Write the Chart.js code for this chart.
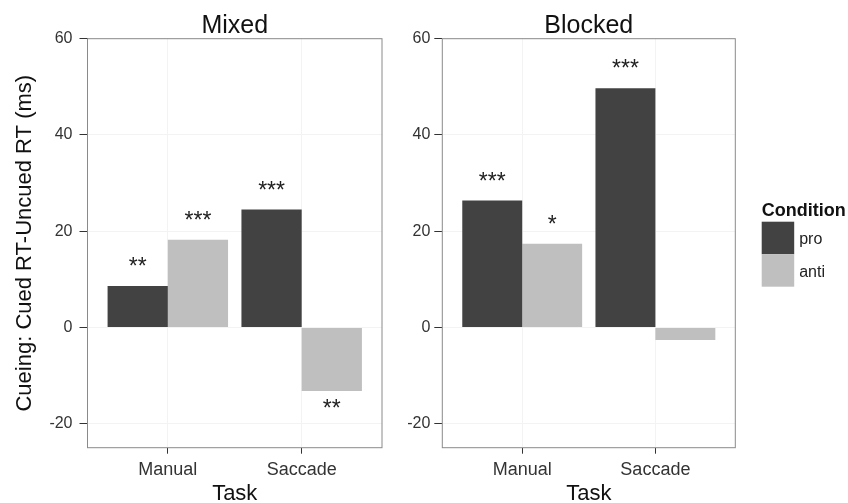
<!DOCTYPE html>
<html>
<head>
<meta charset="utf-8">
<script src="https://cdn.jsdelivr.net/npm/chart.js@4"></script>
<style>
  html, body { margin: 0; padding: 0; background: #fff; }
  #wrap { position: relative; width: 848px; height: 503px; overflow: hidden; }
  #mixed { position: absolute; left: 0; top: 0; }
  #blocked { position: absolute; left: 400px; top: 0; }
</style>
</head>
<body>
<div id="wrap">
  <canvas id="mixed" width="400" height="503"></canvas>
  <canvas id="blocked" width="448" height="503"></canvas>
</div>
<script>
// data
const tasks = ['Manual', 'Saccade'];
const conditions = ['pro', 'anti'];
const yTicks = [-20, 0, 20, 40, 60];

const mixedPro = [8.6, 24.5];
const mixedAnti = [18.2, -13.2];
const blockedPro = [26.4, 49.7];
const blockedAnti = [17.4, -2.6];

// significance stars per bar
const mixedProStars = ['**', '***'];
const mixedAntiStars = ['***', '**'];
const blockedProStars = ['***', '***'];
const blockedAntiStars = ['*', ''];

const colors = ['#424242', '#bfbfbf'];
const FONT = "'Liberation Sans', Arial, sans-serif";

Chart.defaults.font.family = FONT;
Chart.defaults.color = '#333';

function points(vals) {
    return vals.map((v, i) => ({ x: i + 1, y: v }));
}

// panel frame + title
const panelPlugin = {
    id: 'panel',
    afterDraw(chart, args, opts) {
        const { ctx, chartArea: a } = chart;
        ctx.save();
        ctx.strokeStyle = '#8a8a8a';
        ctx.lineWidth = 1;
        ctx.strokeRect(a.left, a.top, a.right - a.left, a.bottom - a.top);
        ctx.fillStyle = '#111';
        ctx.font = '25px ' + FONT;
        ctx.textAlign = 'center';
        ctx.textBaseline = 'alphabetic';
        ctx.fillText(opts.title, (a.left + a.right) / 2, a.top - 5.5);
        ctx.restore();
    }
};

// stars above the bars
const starsPlugin = {
    id: 'stars',
    afterDatasetsDraw(chart, args, opts) {
        const ctx = chart.ctx;
        const size = 23;
        ctx.save();
        ctx.fillStyle = '#222';
        ctx.font = size + 'px ' + FONT;
        ctx.textAlign = 'center';
        ctx.textBaseline = 'alphabetic';
        chart.data.datasets.forEach((ds, di) => {
            const meta = chart.getDatasetMeta(di);
            meta.data.forEach((bar, i) => {
                const label = opts.labels[di][i];
                if (!label) return;
                const v = ds.data[i].y;
                const c = v >= 0 ? bar.y - 25 : bar.y + 12;
                ctx.fillText(label, bar.x, c + size * 0.575);
            });
        });
        ctx.restore();
    }
};

// legend
const legendPlugin = {
    id: 'condLegend',
    afterDraw(chart) {
        const ctx = chart.ctx;
        const x = 361.7, top = 221.7, key = 32.5;
        ctx.save();
        ctx.fillStyle = '#111';
        ctx.font = 'bold 18px ' + FONT;
        ctx.textAlign = 'left';
        ctx.textBaseline = 'alphabetic';
        ctx.fillText('Condition', x, 216);
        ctx.font = '16px ' + FONT;
        ctx.textBaseline = 'middle';
        chart.data.datasets.forEach((ds, i) => {
            const y = top + i * key;
            ctx.fillStyle = ds.backgroundColor;
            ctx.fillRect(x, y, key, key);
            ctx.fillStyle = '#222';
            ctx.fillText(ds.label, x + key + 5, y + key / 2 + 2);
        });
        ctx.restore();
    }
};

function makeChart(canvas, title, pro, anti, proStars, antiStars, yWidth, padRight, showYTitle, yTickPad, withLegend) {
    return new Chart(canvas, {
        type: 'bar',
        data: {
            datasets: [
                { label: conditions[0], data: points(pro), backgroundColor: colors[0] },
                { label: conditions[1], data: points(anti), backgroundColor: colors[1] }
            ]
        },
        options: {
            responsive: false,
            animation: false,
            layout: { padding: { left: 0, right: padRight, top: 38.7, bottom: 0 } },
            datasets: {
                bar: { categoryPercentage: 0.9, barPercentage: 1.0, borderWidth: 0 }
            },
            plugins: {
                legend: { display: false },
                tooltip: { enabled: false },
                panel: { title: title },
                stars: { labels: [proStars, antiStars] }
            },
            scales: {
                x: {
                    type: 'linear',
                    offset: false,
                    min: 0.4,
                    max: 2.6,
                    afterBuildTicks: s => { s.ticks = tasks.map((t, i) => ({ value: i + 1 })); },
                    afterFit: s => { s.height = 55.3; },
                    ticks: {
                        callback: v => tasks[v - 1],
                        font: { size: 18 },
                        color: '#333',
                        padding: 6,
                        maxRotation: 0
                    },
                    grid: { offset: false, color: '#f3f3f3', tickColor: '#333', tickLength: 6 },
                    border: { display: false },
                    title: {
                        display: true,
                        text: 'Task',
                        font: { size: 22, lineHeight: 1 },
                        color: '#111',
                        padding: { top: 0, bottom: -2 }
                    }
                },
                y: {
                    type: 'linear',
                    min: -25,
                    max: 60,
                    afterBuildTicks: s => { s.ticks = yTicks.map(v => ({ value: v })); },
                    afterFit: s => { s.width = yWidth; },
                    ticks: { font: { size: 16 }, color: '#333', padding: yTickPad },
                    grid: { color: '#f3f3f3', tickColor: '#333', tickLength: 8 },
                    border: { display: false },
                    title: {
                        display: showYTitle,
                        text: 'Cueing: Cued RT-Uncued RT (ms)',
                        font: { size: 22 },
                        color: '#111',
                        padding: { top: 12, bottom: 0 }
                    }
                }
            }
        },
        plugins: withLegend ? [panelPlugin, starsPlugin, legendPlugin] : [panelPlugin, starsPlugin]
    });
}

makeChart(document.getElementById('mixed'), 'Mixed', mixedPro, mixedAnti,
    mixedProStars, mixedAntiStars, 87.5, 18, true, 7, false);
makeChart(document.getElementById('blocked'), 'Blocked', blockedPro, blockedAnti,
    blockedProStars, blockedAntiStars, 42.3, 112.7, false, 4, true);
</script>
</body>
</html>
